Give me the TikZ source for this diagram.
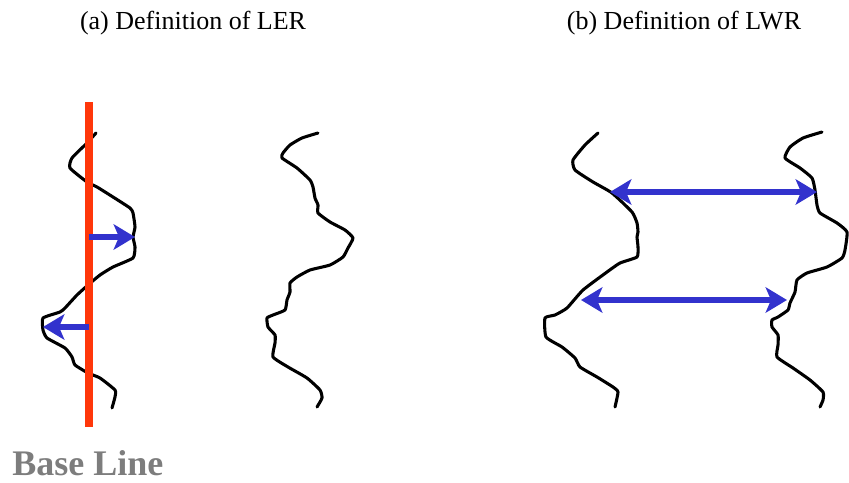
\documentclass[tikz,border=0pt]{standalone}
\usepackage{fontspec}
\setmainfont{Liberation Serif}
\newfontfamily\timesfont{Liberation Serif}
\usetikzlibrary{arrows.meta}
\definecolor{devblue}{RGB}{50,50,205}
\definecolor{refred}{RGB}{255,55,10}
\definecolor{labelgray}{RGB}{125,125,125}

\begin{document}
\begin{tikzpicture}[x=0.75pt,y=-0.75pt,
    edgeline/.style={line width=2.3pt, line join=round, line cap=round},
    refline/.style={refred, line width=5.3pt},
    devarrow/.style={devblue, line width=4.8pt, -{Stealth[length=16pt,width=19pt,inset=4pt]}},
    widtharrow/.style={devblue, line width=4.8pt, {Stealth[length=16pt,width=19pt,inset=4pt]}-{Stealth[length=16pt,width=19pt,inset=4pt]}},
    title/.style={font=\timesfont\fontsize{19.5}{22}\selectfont}]
  \useasboundingbox (0,0) rectangle (849,482);

  % titres
  \node[title] (titleA) at (193,23) {(a) Definition of LER};
  \node[title] (titleB) at (684,23) {(b) Definition of LWR};

  % (a) bord gauche
  \draw[edgeline] plot[smooth, tension=0.3] coordinates {
    (96,133) (87,143) (72,158) (70,168) (87,182) (97,187) (113,197) (130,208)
    (133,213) (135,227) (133,237) (135,247) (133,258) (113,267) (100,275)
    (88,285) (77,295) (65,308) (60,312) (43,318) (43,330) (47,338) (65,348)
    (72,357) (75,365) (88,373) (100,378) (115,390) (115,397) (112,408)};
  % (a) bord droit
  \draw[edgeline] plot[smooth, tension=0.3] coordinates {
    (318,133) (302,138) (290,145) (283,153) (282,158) (297,168) (310,180)
    (313,187) (315,198) (318,205) (318,213) (330,222) (345,230) (353,238)
    (348,248) (343,257) (330,265) (310,270) (297,277) (290,283) (290,292)
    (287,300) (285,310) (273,315) (267,318) (268,327) (275,335) (275,343)
    (273,357) (288,367) (307,378) (320,390) (322,398) (317,407)};

  % (b) bord gauche
  \draw[edgeline] plot[smooth, tension=0.3] coordinates {
    (598,133) (585,145) (573,160) (575,170) (593,182) (612,193) (632,212)
    (637,223) (638,232) (637,237) (638,247) (637,257) (620,263) (607,272)
    (583,290) (567,308) (555,315) (545,318) (546,337) (562,347) (575,358)
    (580,367) (597,377) (613,387) (618,392) (615,407)};
  % (b) bord droit
  \draw[edgeline] plot[smooth, tension=0.3] coordinates {
    (822,132) (803,138) (790,147) (785,158) (800,168) (812,178) (815,190)
    (817,205) (820,213) (837,223) (847,232) (845,250) (842,258) (827,267)
    (807,273) (797,280) (795,292) (790,303) (788,310) (778,317) (772,320)
    (772,327) (778,335) (778,345) (777,357) (793,368) (810,380) (823,392)
    (823,400) (820,407)};

  % ligne de base
  \coordinate (baseTop) at (89,102);
  \coordinate (baseBot) at (89,427);
  \draw[refline] (baseTop) -- (baseBot);

  % écarts à la ligne de base
  \coordinate (devA0) at (89,237);
  \coordinate (devA1) at (135,237);
  \coordinate (devB0) at (89,327);
  \coordinate (devB1) at (43,327);
  \draw[devarrow] (devA0) -- (devA1);
  \draw[devarrow] (devB0) -- (devB1);

  % largeurs de ligne
  \coordinate (wTopL) at (610,192);
  \coordinate (wTopR) at (817,192);
  \coordinate (wBotL) at (581,300);
  \coordinate (wBotR) at (787,300);
  \draw[widtharrow] (wTopL) -- (wTopR);
  \draw[widtharrow] (wBotL) -- (wBotR);

  \node[anchor=base west, inner sep=0pt, text=labelgray,
    font=\timesfont\fontsize{27}{30}\selectfont\bfseries] (baseLabel) at (12,475) {Base Line};
\end{tikzpicture}
\end{document}
